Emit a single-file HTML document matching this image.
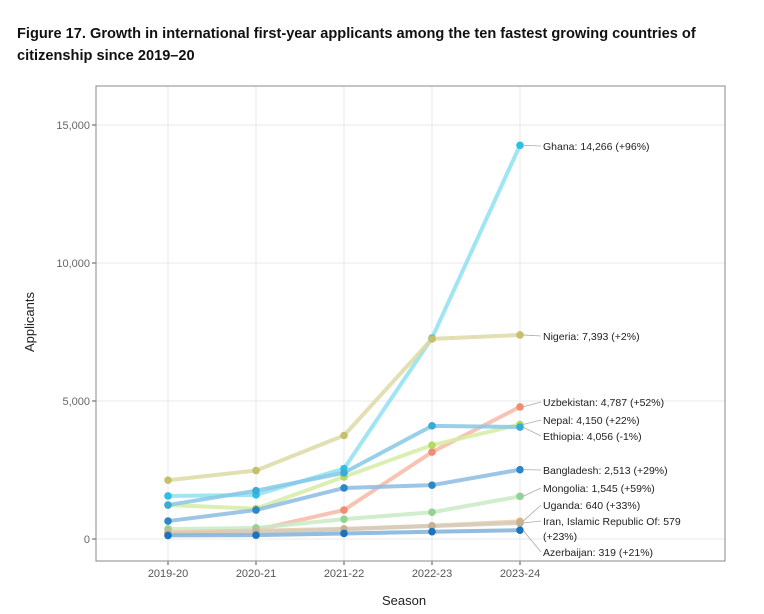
<!DOCTYPE html>
<html><head><meta charset="utf-8"><style>
body{margin:0;background:#fff;width:764px;height:614px;overflow:hidden;font-family:"Liberation Sans",sans-serif}
#t{position:absolute;left:17px;top:23px;font-weight:bold;font-size:14.6px;line-height:22px;color:#111;width:740px}
</style></head><body>
<div id="t">Figure 17. Growth in international first-year applicants among the ten fastest growing countries of<br>citizenship since 2019–20</div>
<svg id="c" width="764" height="614" style="position:absolute;left:0;top:0"></svg>
<script>
const seasons=["2019-20","2020-21","2021-22","2022-23","2023-24"];
const yTicks=[0,5000,10000,15000];
const yTickLabels=["0","5,000","10,000","15,000"];
const names=["Ghana","Nigeria","Uzbekistan","Nepal","Ethiopia","Bangladesh","Mongolia","Uganda","Iran","Azerbaijan"];
const ghana=[1560,1600,2550,7280,14266];
const nigeria=[2130,2480,3750,7250,7393];
const uzbekistan=[220,330,1050,3150,4787];
const nepal=[1230,1100,2250,3400,4150];
const ethiopia=[1230,1750,2400,4100,4056];
const bangladesh=[650,1050,1850,1950,2513];
const mongolia=[360,400,720,970,1545];
const uganda=[250,300,370,481,640];
const iran=[200,260,350,471,579];
const azerbaijan=[130,140,200,264,319];
const labels=["Ghana: 14,266 (+96%)","Nigeria: 7,393 (+2%)","Uzbekistan: 4,787 (+52%)","Nepal: 4,150 (+22%)","Ethiopia: 4,056 (-1%)","Bangladesh: 2,513 (+29%)","Mongolia: 1,545 (+59%)","Uganda: 640 (+33%)","Iran, Islamic Republic Of: 579|(+23%)","Azerbaijan: 319 (+21%)"];
const labelY=[146,336,402,420,436,470,488,505,521,552];
const series=[ghana,nigeria,uzbekistan,nepal,ethiopia,bangladesh,mongolia,uganda,iran,azerbaijan];
const lineC=["#8fe0f0","#ddd9a4","#f7b8a6","#d6eca4","#86c8e6","#8cbbe0","#c8eac4","#ecccaa","#d4cabb","#7fb2da"];
const dotC=["#2cc0e2","#c6bf6e","#f08c72","#b4da5e","#3aaad8","#2a88c8","#92d292","#e2b282","#c4b292","#1a74bd"];
const L=96,R=725,T=86,B=561;
const x=i=>168+i*88;
const y=v=>539-v*(138/5000);
const svg=document.getElementById('c');const NS="http://www.w3.org/2000/svg";
function mk(tag,a,p){const e=document.createElementNS(NS,tag);for(const k in a)e.setAttribute(k,a[k]);(p||svg).appendChild(e);return e;}
yTicks.forEach((v,i)=>{const g=mk('line',{x1:L,x2:R,y1:y(v),y2:y(v),stroke:'#e8e8e8'});

mk('line',{x1:L-4,x2:L,y1:y(v),y2:y(v),stroke:'#555'});
const t=mk('text',{x:L-6,y:y(v)+4,'text-anchor':'end','font-size':11,fill:'#666'});t.textContent=yTickLabels[i];
});
seasons.forEach((s,i)=>{const g=mk('line',{x1:x(i),x2:x(i),y1:T,y2:B,stroke:'#e8e8e8'});

mk('line',{x1:x(i),x2:x(i),y1:B,y2:B+4,stroke:'#555'});
const t=mk('text',{x:x(i),y:B+16,'text-anchor':'middle','font-size':11,fill:'#555'});t.textContent=s;
});
const fr=mk('rect',{x:L,y:T,width:R-L,height:B-T,fill:'none',stroke:'#888'});

series.forEach((d,k)=>{const g=mk('g',{});

mk('polyline',{points:d.map((v,i)=>x(i)+','+y(v)).join(' '),fill:'none',stroke:lineC[k],'stroke-width':4,'stroke-opacity':0.85,'stroke-linejoin':'round'},g);
d.forEach((v,i)=>{const c=mk('circle',{cx:x(i),cy:y(v),r:3.8,fill:dotC[k]},g);
});
const last=d[d.length-1];
mk('line',{x1:x(4)+3,y1:y(last),x2:541,y2:labelY[k],stroke:'#aaa','stroke-width':0.8},g);
const parts=labels[k].split('|');
parts.forEach((p,j)=>{const t=mk('text',{x:543,y:labelY[k]+4+j*15,'font-size':10.5,fill:'#222'},g);t.textContent=p;
});
});
const yl=mk('text',{x:34,y:322,transform:'rotate(-90 34 322)','text-anchor':'middle','font-size':13,fill:'#222'});yl.textContent='Applicants';

const xl=mk('text',{x:404,y:605,'text-anchor':'middle','font-size':13,fill:'#222'});xl.textContent='Season';

</script>
</body></html>
